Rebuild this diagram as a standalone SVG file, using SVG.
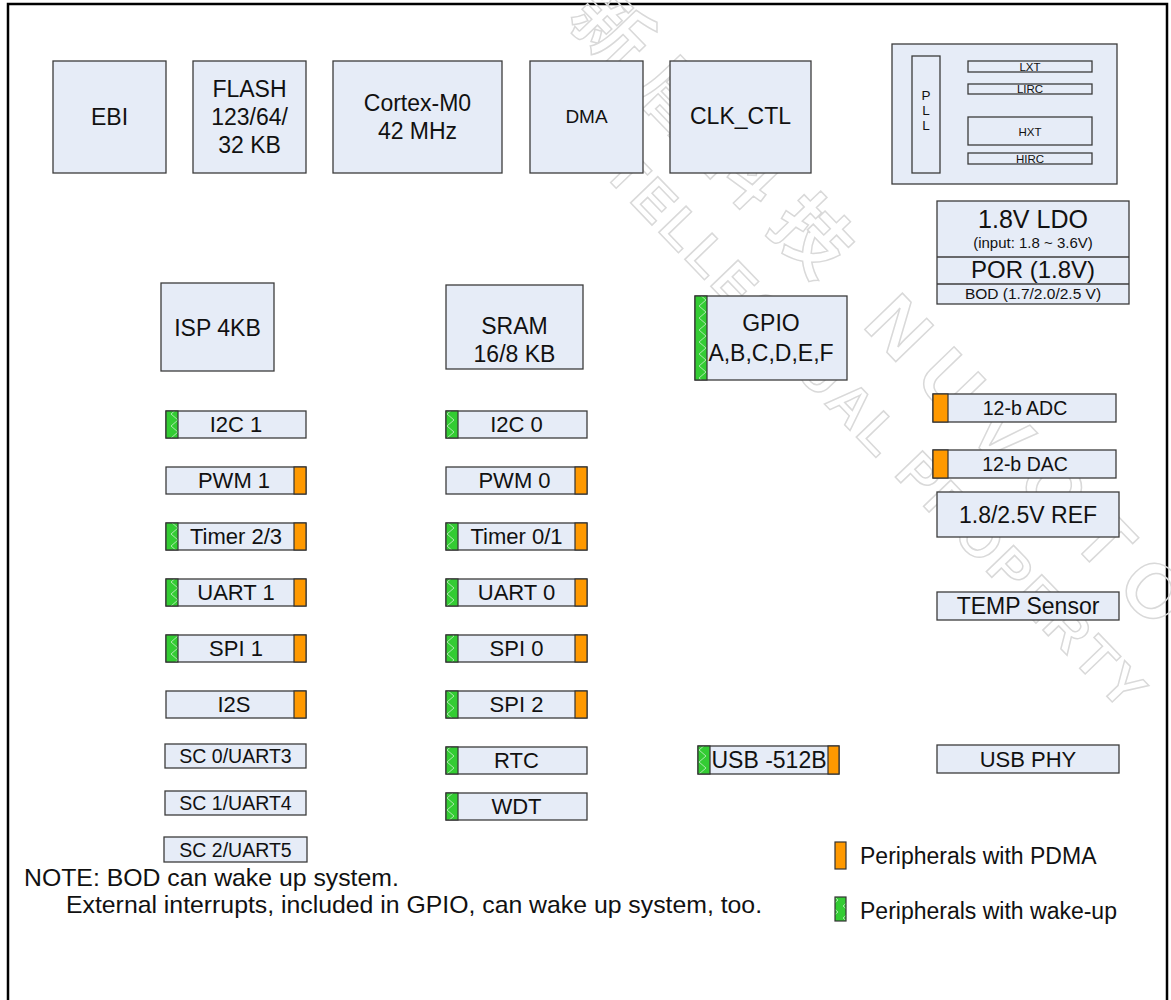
<svg xmlns="http://www.w3.org/2000/svg" width="1171" height="1000" viewBox="0 0 1171 1000">
<defs>
<pattern id="zig" width="12" height="12" patternUnits="userSpaceOnUse">
<rect width="12" height="12" fill="#33cc33"/>
<polyline points="10,0 3,6 10,12" fill="none" stroke="#b8eab8" stroke-width="0.9"/>
</pattern>
</defs>
<style>
.t{font-family:"Liberation Sans",Arial,sans-serif;fill:#111;text-anchor:middle}
.box{fill:#e6ecf7;stroke:#3c3c3c;stroke-width:1.3}
.pd{fill:#ff9900;stroke:#333;stroke-width:1.2}
.wk{fill:url(#zig);stroke:#333;stroke-width:1.2}
.wm{font-family:"Liberation Sans","Noto Sans CJK SC",sans-serif;font-weight:bold;fill:none;stroke:#d9d9d9;stroke-width:1.5}
.f22{font-size:22px}
.f23{font-size:23px}
.f19{font-size:19.5px}
.s{text-anchor:start}
</style>
<rect x="0" y="0" width="1171" height="1000" fill="#fff"/>
<rect x="8" y="4" width="1159" height="1010" fill="none" stroke="#000" stroke-width="2.5"/>
<g id="watermark">
<text class="wm" font-size="76" letter-spacing="20" transform="translate(566,20) rotate(46)">新唐科技 NUVOTON</text>
<text class="wm" font-size="55" letter-spacing="4" transform="translate(558,128) rotate(46)">INTELLECTUAL PROPERTY</text>
</g>
<g id="connectors"></g>
<g id="ebi"><rect class="box" x="53" y="61" width="113" height="112"/><text class="t f23" x="109.5" y="125">EBI</text></g>
<g id="flash"><rect class="box" x="193" y="61" width="113" height="112"/><text class="t f23" x="249.5" y="97">FLASH</text><text class="t f23" x="249.5" y="125">123/64/</text><text class="t f23" x="249.5" y="153">32 KB</text></g>
<g id="cortex"><rect class="box" x="333" y="61" width="169" height="112"/><text class="t f23" x="417.5" y="111">Cortex-M0</text><text class="t f23" x="417.5" y="139">42 MHz</text></g>
<g id="dma"><rect class="box" x="530" y="61" width="113" height="112"/><text class="t" font-size="19" x="586.5" y="123">DMA</text></g>
<g id="clk_ctl"><rect class="box" x="670" y="61" width="141" height="112"/><text class="t f23" x="740.5" y="124">CLK_CTL</text></g>
<g id="clock">
<rect class="box" x="892" y="44" width="225" height="140"/>
<rect class="box" x="912" y="56" width="28" height="117"/>
<text class="t" font-size="13.5" x="926" y="100">P</text><text class="t" font-size="13.5" x="926" y="115">L</text><text class="t" font-size="13.5" x="926" y="130">L</text>
<rect class="box" x="968" y="61" width="124" height="11"/><text class="t" font-size="11.5" x="1030" y="71">LXT</text>
<rect class="box" x="968" y="84" width="124" height="10"/><text class="t" font-size="11.5" x="1030" y="93">LIRC</text>
<rect class="box" x="968" y="117" width="124" height="28"/><text class="t" font-size="11.5" x="1030" y="136">HXT</text>
<rect class="box" x="968" y="153" width="124" height="11"/><text class="t" font-size="11.5" x="1030" y="163">HIRC</text>
</g>
<g id="ldo">
<rect class="box" x="937" y="201" width="192" height="103"/>
<line x1="937" y1="257" x2="1129" y2="257" stroke="#3c3c3c" stroke-width="1.3"/>
<line x1="937" y1="284" x2="1129" y2="284" stroke="#3c3c3c" stroke-width="1.3"/>
<text class="t" font-size="25" x="1033" y="228">1.8V LDO</text>
<text class="t" font-size="15" x="1033" y="248">(input: 1.8 ~ 3.6V)</text>
<text class="t" font-size="24" x="1033" y="278">POR (1.8V)</text>
<text class="t" font-size="15.5" x="1033" y="299">BOD (1.7/2.0/2.5 V)</text>
</g>
<g id="isp"><rect class="box" x="161" y="283" width="113" height="88"/><text class="t f23" x="217.5" y="336">ISP 4KB</text></g>
<g id="sram"><rect class="box" x="446" y="285" width="137" height="84"/><text class="t f23" x="514.5" y="334">SRAM</text><text class="t f23" x="514.5" y="362">16/8 KB</text></g>
<g id="gpio"><rect class="box" x="695" y="296" width="152" height="84"/><rect class="wk" x="695" y="296" width="12" height="84"/><text class="t f23" x="771" y="331">GPIO</text><text class="t f23" x="771" y="361">A,B,C,D,E,F</text></g>
<g id="i2c1"><rect class="box" x="166" y="411" width="140" height="27"/><rect class="wk" x="166" y="411" width="12" height="27"/><text class="t f22" x="236" y="432">I2C 1</text></g>
<g id="pwm1"><rect class="box" x="166" y="467" width="140" height="27"/><rect class="pd" x="294" y="467" width="12" height="27"/><text class="t f22" x="234" y="488">PWM 1</text></g>
<g id="timer23"><rect class="box" x="166" y="523" width="140" height="27"/><rect class="wk" x="166" y="523" width="12" height="27"/><rect class="pd" x="294" y="523" width="12" height="27"/><text class="t f22" x="236" y="544">Timer 2/3</text></g>
<g id="uart1"><rect class="box" x="166" y="579" width="140" height="27"/><rect class="wk" x="166" y="579" width="12" height="27"/><rect class="pd" x="294" y="579" width="12" height="27"/><text class="t f22" x="236" y="600">UART 1</text></g>
<g id="spi1"><rect class="box" x="166" y="635" width="140" height="27"/><rect class="wk" x="166" y="635" width="12" height="27"/><rect class="pd" x="294" y="635" width="12" height="27"/><text class="t f22" x="236" y="656">SPI 1</text></g>
<g id="i2s"><rect class="box" x="166" y="691" width="140" height="27"/><rect class="pd" x="294" y="691" width="12" height="27"/><text class="t f22" x="234" y="712">I2S</text></g>
<g id="sc0"><rect class="box" x="165" y="744" width="141" height="24"/><text class="t f19" x="235.5" y="763">SC 0/UART3</text></g>
<g id="sc1"><rect class="box" x="165" y="791" width="141" height="24"/><text class="t f19" x="235.5" y="810">SC 1/UART4</text></g>
<g id="sc2"><rect class="box" x="164" y="837" width="143" height="25"/><text class="t f19" x="235.5" y="857">SC 2/UART5</text></g>
<g id="i2c0"><rect class="box" x="446" y="411" width="141" height="27"/><rect class="wk" x="446" y="411" width="12" height="27"/><text class="t f22" x="516.5" y="432">I2C 0</text></g>
<g id="pwm0"><rect class="box" x="446" y="467" width="141" height="27"/><rect class="pd" x="575" y="467" width="12" height="27"/><text class="t f22" x="514.5" y="488">PWM 0</text></g>
<g id="timer01"><rect class="box" x="446" y="523" width="141" height="27"/><rect class="wk" x="446" y="523" width="12" height="27"/><rect class="pd" x="575" y="523" width="12" height="27"/><text class="t f22" x="516.5" y="544">Timer 0/1</text></g>
<g id="uart0"><rect class="box" x="446" y="579" width="141" height="27"/><rect class="wk" x="446" y="579" width="12" height="27"/><rect class="pd" x="575" y="579" width="12" height="27"/><text class="t f22" x="516.5" y="600">UART 0</text></g>
<g id="spi0"><rect class="box" x="446" y="635" width="141" height="27"/><rect class="wk" x="446" y="635" width="12" height="27"/><rect class="pd" x="575" y="635" width="12" height="27"/><text class="t f22" x="516.5" y="656">SPI 0</text></g>
<g id="spi2"><rect class="box" x="446" y="691" width="141" height="27"/><rect class="wk" x="446" y="691" width="12" height="27"/><rect class="pd" x="575" y="691" width="12" height="27"/><text class="t f22" x="516.5" y="712">SPI 2</text></g>
<g id="rtc"><rect class="box" x="446" y="747" width="141" height="27"/><rect class="wk" x="446" y="747" width="12" height="27"/><text class="t f22" x="516.5" y="768">RTC</text></g>
<g id="wdt"><rect class="box" x="446" y="793" width="141" height="27"/><rect class="wk" x="446" y="793" width="12" height="27"/><text class="t f22" x="516.5" y="814">WDT</text></g>
<g id="usb"><rect class="box" x="698" y="746" width="141" height="28"/><rect class="wk" x="698" y="746" width="12" height="28"/><rect class="pd" x="828" y="746" width="11" height="28"/><text class="t f23" x="769" y="768">USB -512B</text></g>
<g id="adc"><rect class="box" x="933" y="394" width="183" height="28"/><rect class="pd" x="933" y="394" width="15" height="28"/><text class="t" font-size="19.5" x="1025" y="415">12-b ADC</text></g>
<g id="dac"><rect class="box" x="933" y="450" width="183" height="28"/><rect class="pd" x="933" y="450" width="15" height="28"/><text class="t" font-size="19.5" x="1025" y="471">12-b DAC</text></g>
<g id="ref"><rect class="box" x="937" y="492" width="182" height="45"/><text class="t f23" x="1028" y="523">1.8/2.5V REF</text></g>
<g id="temp"><rect class="box" x="937" y="592" width="182" height="28"/><text class="t f23" x="1028" y="614">TEMP Sensor</text></g>
<g id="usbphy"><rect class="box" x="937" y="745" width="182" height="28"/><text class="t f22" x="1028" y="767">USB PHY</text></g>
<g id="legend">
<rect class="pd" x="835" y="842" width="11" height="27"/>
<text class="t f23 s" x="860" y="864">Peripherals with PDMA</text>
<rect class="wk" x="835" y="897" width="11" height="24"/>
<text class="t f23 s" x="860" y="919">Peripherals with wake-up</text>
</g>
<g id="note">
<text class="t s" font-size="24.8" x="24" y="886">NOTE: BOD can wake up system.</text>
<text class="t s" font-size="24.8" x="66" y="913">External interrupts, included in GPIO, can wake up system, too.</text>
</g>
</svg>
